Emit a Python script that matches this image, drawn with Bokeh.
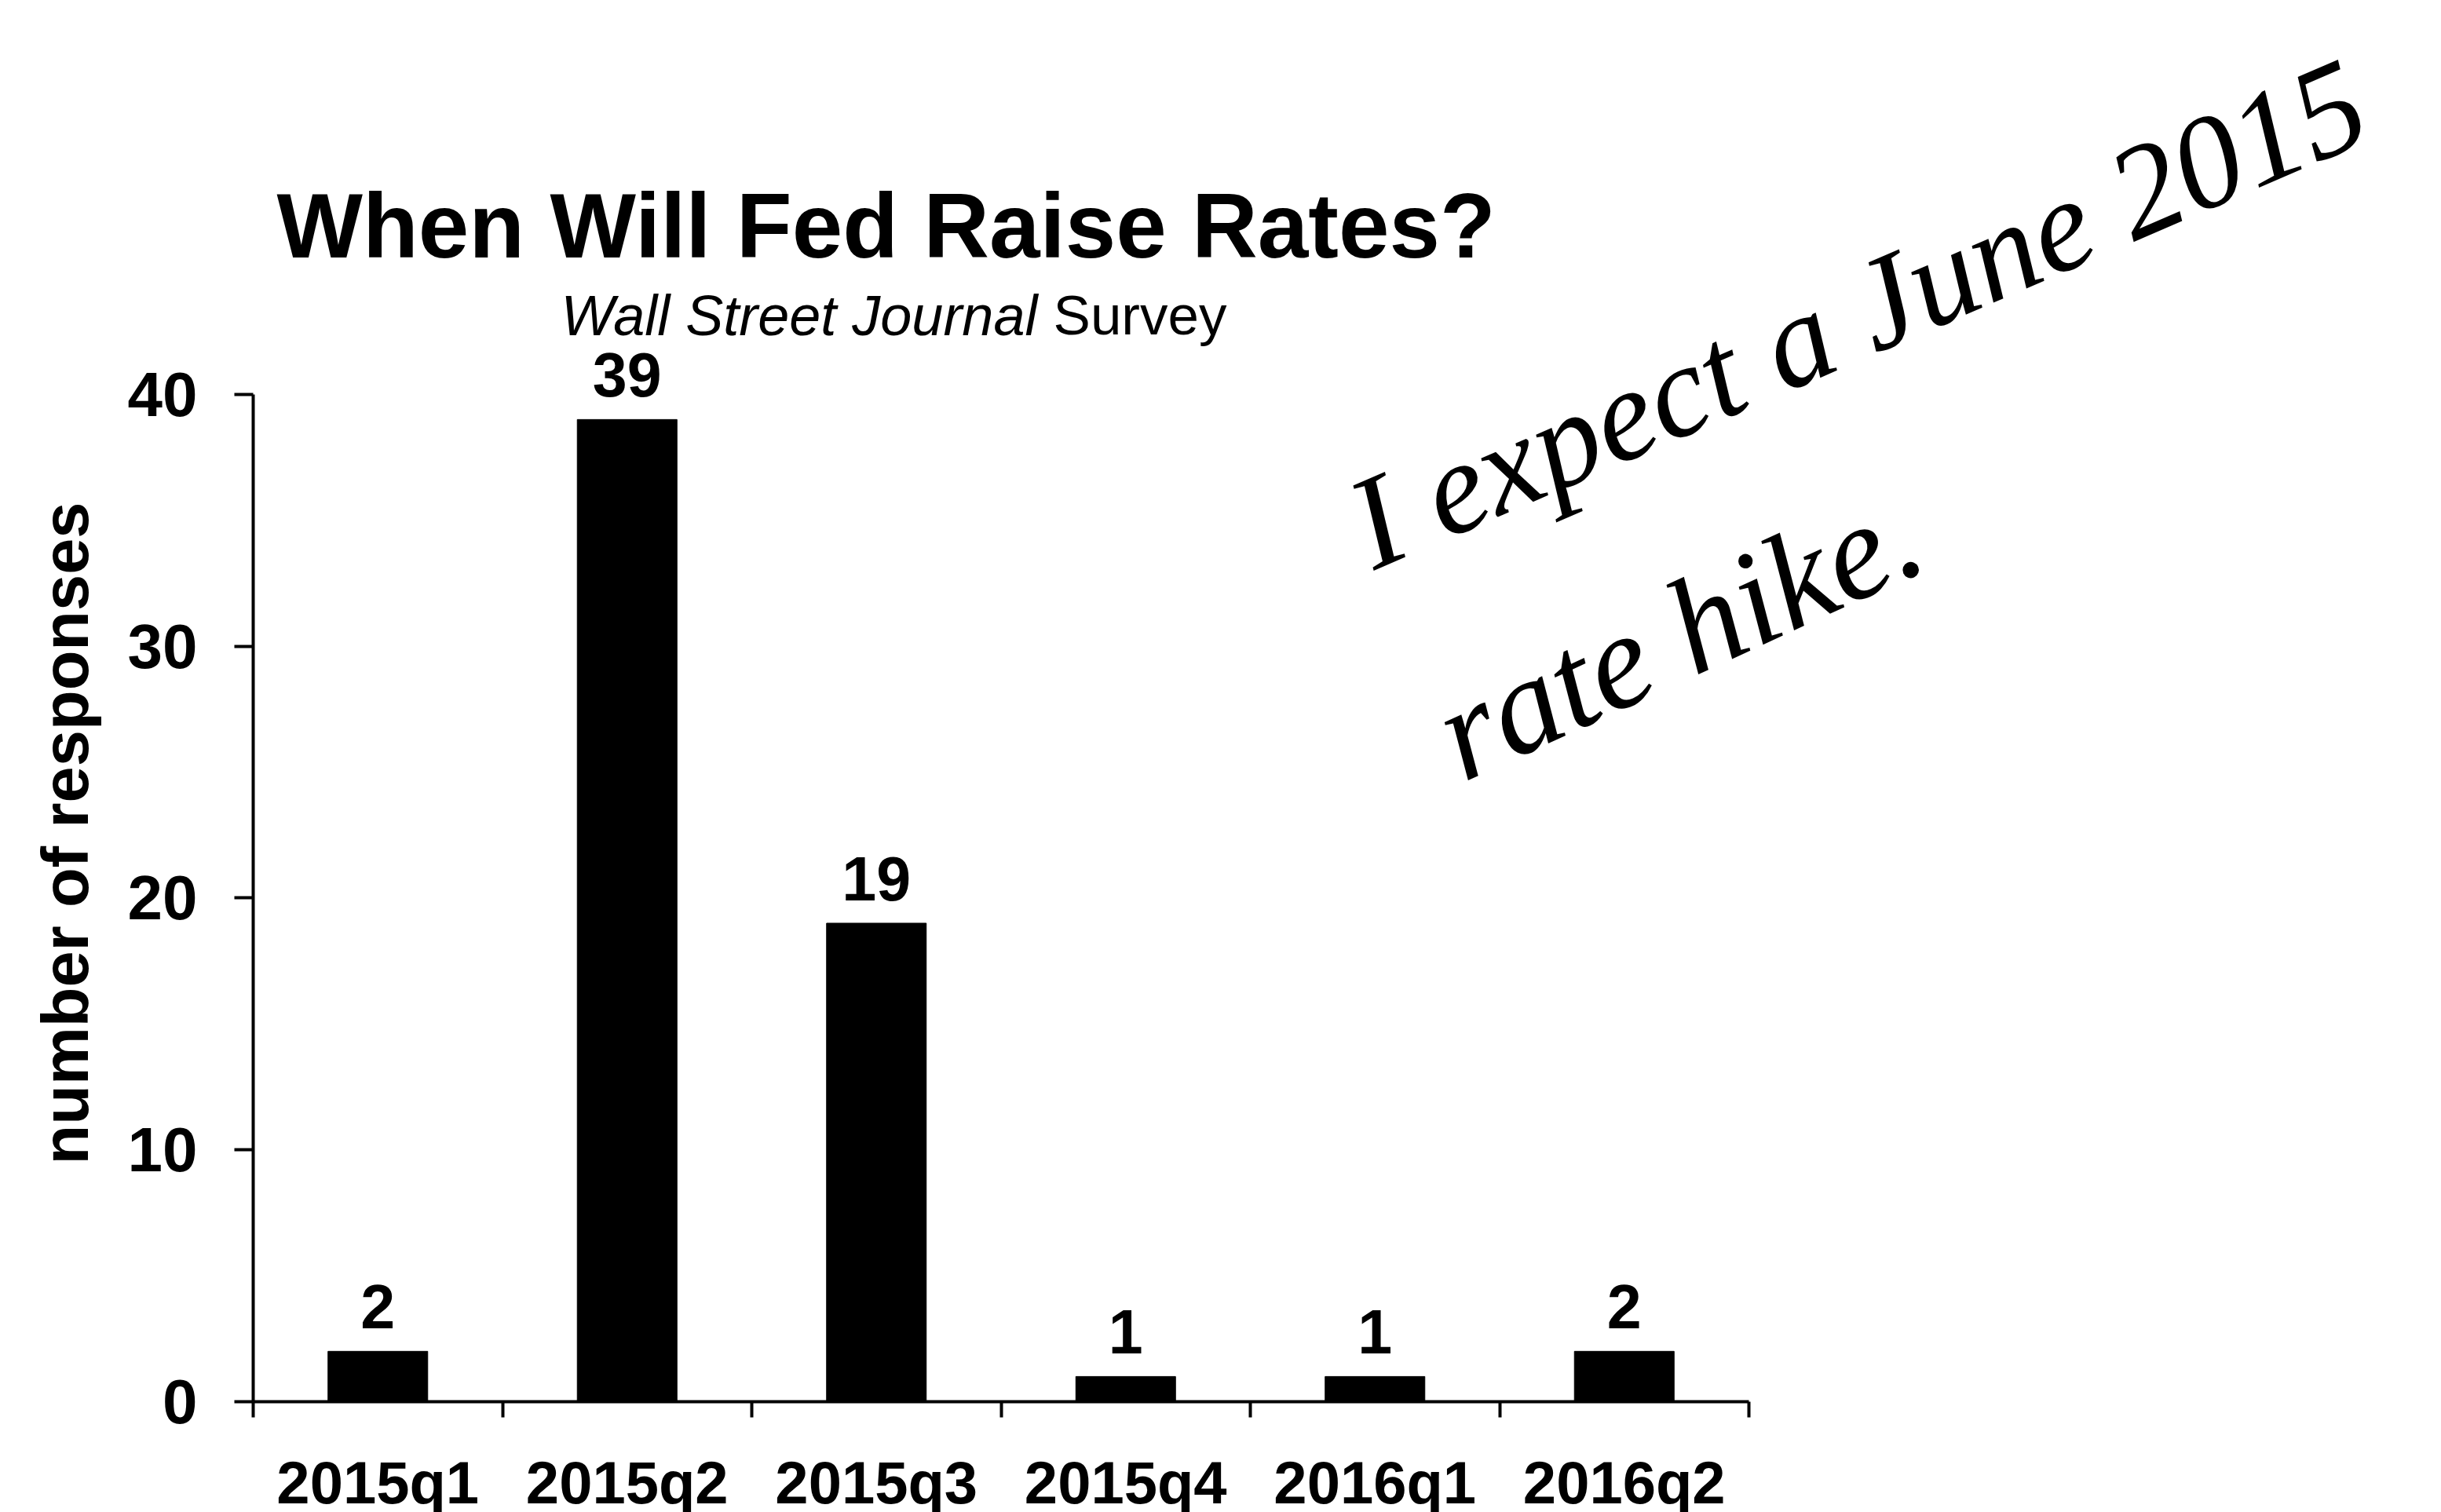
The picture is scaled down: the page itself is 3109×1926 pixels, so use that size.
import math
from bokeh.plotting import figure
from bokeh.models import Range1d, FixedTicker, LinearAxis, Label, LabelSet, ColumnDataSource, Title
from bokeh.embed import file_html
from bokeh.resources import INLINE
from bokeh.core.properties import value

# ---- data ----
categories = ["2015q1", "2015q2", "2015q3", "2015q4", "2016q1", "2016q2"]
responses = [2, 39, 19, 1, 1, 2]
y_ticks = [0, 10, 20, 30, 40]
title_text = "When Will Fed Raise Rates?"
subtitle_italic = "Wall Street Journal"
subtitle_plain = "Survey"
y_label = "number of responses"
note_line1 = "I expect a June 2015"
note_line2 = "rate hike."

FONT = "Liberation Sans"
PX_X = 317.5   # screen px per category
PX_Y = 32.08   # screen px per response

frame_w = 2771
frame_h = 1785

n = len(categories)
centers = [i + 0.5 for i in range(n)]
edges = list(range(n + 1))

p = figure(frame_width=frame_w, frame_height=frame_h,
           x_range=Range1d(0, frame_w / PX_X), y_range=Range1d(0, frame_h / PX_Y),
           output_backend="svg", toolbar_location=None,
           x_axis_location=None, y_axis_location=None,
           min_border_left=322, min_border_right=0, min_border_top=0, min_border_bottom=0)
p.outline_line_color = None
p.background_fill_color = "white"
p.border_fill_color = "white"
p.grid.grid_line_color = None


def dx(sx):
    return (sx - 330) / PX_X


def dy(sy):
    return (1793 - sy) / PX_Y


# y axis
yaxis = LinearAxis(ticker=FixedTicker(ticks=y_ticks), bounds=(0, 40))
yaxis.axis_line_width = 4
yaxis.axis_line_color = "black"
yaxis.major_tick_line_width = 4
yaxis.major_tick_out = 24
yaxis.major_tick_in = 0
yaxis.minor_tick_line_color = None
yaxis.major_label_standoff = 47
yaxis.major_label_text_font = FONT
yaxis.major_label_text_font_style = "bold"
yaxis.major_label_text_font_size = "80px"
yaxis.major_label_text_color = "black"
p.add_layout(yaxis, "left")

# y-axis title, placed in the left panel (starts 302 px above the x axis)
p.add_layout(Title(text=y_label, align="left", offset=302, standoff=60,
                   text_font=FONT, text_font_style="bold", text_font_size="83px",
                   text_color="black"), "left")

# x axis: ticks at category edges, labels at centres
xaxis = LinearAxis(ticker=FixedTicker(ticks=centers, minor_ticks=edges), bounds=(0, n),
                   major_label_overrides={c: cat for c, cat in zip(centers, categories)})
xaxis.axis_line_width = 4
xaxis.axis_line_color = "black"
xaxis.major_tick_line_color = None
xaxis.major_tick_out = 0
xaxis.major_tick_in = 0
xaxis.minor_tick_line_color = "black"
xaxis.minor_tick_line_width = 4
xaxis.minor_tick_out = 20
xaxis.minor_tick_in = 0
xaxis.major_label_standoff = 40
xaxis.major_label_text_font = FONT
xaxis.major_label_text_font_style = "bold"
xaxis.major_label_text_font_size = "76px"
xaxis.major_label_text_color = "black"
p.add_layout(xaxis, "below")

src = ColumnDataSource(dict(x=centers, top=responses, lbl=[str(v) for v in responses]))
p.vbar(x="x", top="top", width=0.4, source=src, fill_color="black", line_color="black")

p.add_layout(LabelSet(x="x", y="top", text="lbl", source=src, y_offset=29,
                      text_align="center", text_baseline="alphabetic",
                      text_font=value(FONT), text_font_style="bold",
                      text_font_size="79px", text_color="black"))

p.add_layout(Label(x=dx(360), y=dy(295), text=title_text, text_align="left",
                   text_baseline="alphabetic", text_font=FONT, text_font_style="bold",
                   text_font_size="116px", text_color="black"))
p.add_layout(Label(x=dx(722), y=dy(409), text=subtitle_italic, text_align="left",
                   text_baseline="alphabetic", text_font=FONT, text_font_style="italic",
                   text_font_size="72px", text_color="black"))
p.add_layout(Label(x=dx(1570), y=dy(409), text=subtitle_plain, text_align="right",
                   text_baseline="alphabetic", text_font=FONT, text_font_style="normal",
                   text_font_size="71px", text_color="black"))

# handwritten note
p.add_layout(Label(x=dx(2373), y=dy(406), text=note_line1, angle=math.radians(23.4),
                   text_align="center", text_baseline="alphabetic", text_font="Liberation Serif",
                   text_font_style="italic", text_font_size="168px", text_color="black"))
p.add_layout(Label(x=dx(2145), y=dy(814), text=note_line2, angle=math.radians(24.7),
                   text_align="center", text_baseline="alphabetic", text_font="Liberation Serif",
                   text_font_style="italic", text_font_size="174px", text_color="black"))

open("out.html", "w").write(file_html(p, INLINE))
